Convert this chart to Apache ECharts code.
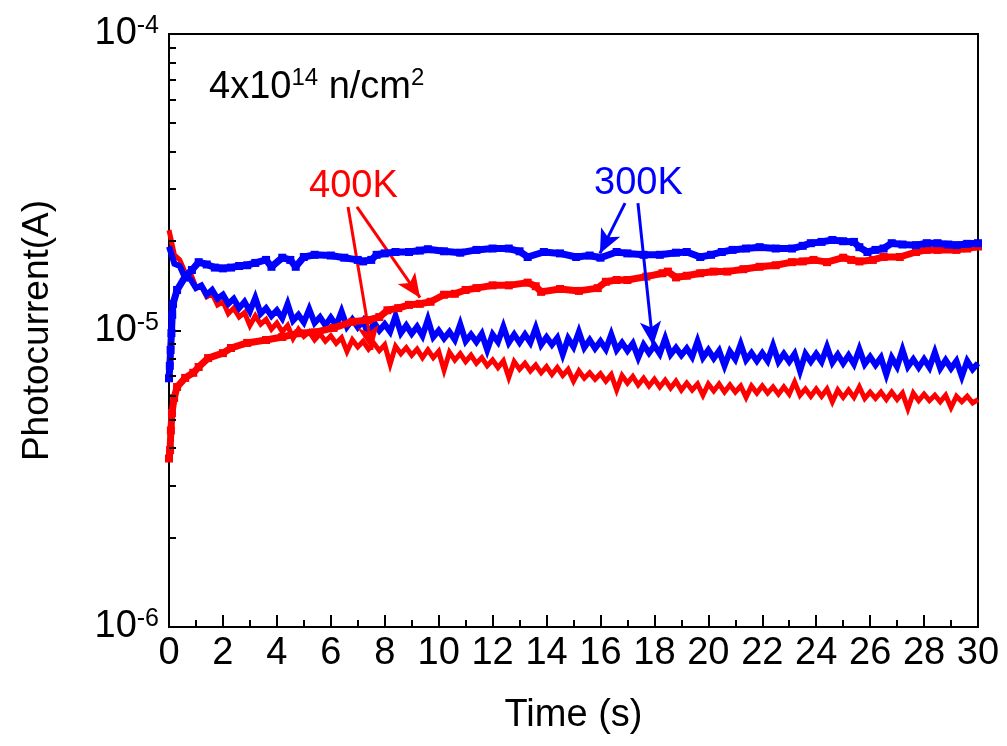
<!DOCTYPE html>
<html><head><meta charset="utf-8">
<script src="https://cdn.jsdelivr.net/npm/echarts@6/dist/echarts.min.js"></script>
<style>html,body{margin:0;padding:0;background:#fff}#c{width:1007px;height:746px}</style>
</head><body><div id="c"></div>
<script>
// All currents are in microampere (1 uA = 1e-6 A); axis labels show the power of ten in A.
const FONT = '"Liberation Sans", Arial, Helvetica, sans-serif';
const RED = '#ff0000', BLUE = '#0000ff';

// x tick labels every 2 s
const xMin = 0, xMax = 30, xStep = 2;
// y axis decades (uA) -> labels 10^-6 .. 10^-4 A
const yMin = 1, yMax = 100;
const yMinorTicks = [2,3,4,5,6,7,8,9,20,30,40,50,60,70,80,90];

// Noisy decay curves, sampled every 0.2 s from 0 to 30 s
const noisyStep = 0.2;
const red400Decay = [
 21.8,18.0,17.3,15.7,15.6,14.0,14.1,13.0,13.3,12.2,
 12.5,11.4,11.9,11.1,11.5,10.4,11.2,10.5,10.9,10.1,
 10.6,9.9,10.4,9.4,10.1,9.55,9.9,9.3,9.75,9.2,
 9.6,9.05,9.45,8.5,9.3,8.8,9.2,8.65,9.05,8.55,
 8.95,7.7,8.85,8.35,8.75,8.25,8.65,8.1,8.6,8.1,
 8.5,7.35,8.45,7.95,8.35,7.85,8.25,7.75,8.1,7.6,
 7.95,7.5,7.9,6.95,7.85,7.4,7.75,7.3,7.65,7.2,
 7.55,7.1,7.5,7.05,7.4,6.75,7.3,6.9,7.2,6.85,
 7.15,6.75,7.1,6.3,7.05,6.65,7.0,6.55,6.9,6.5,
 6.85,6.45,6.8,6.4,6.75,6.3,6.65,6.3,6.6,6.05,
 6.6,6.25,6.6,6.2,6.55,6.2,6.5,5.95,6.5,6.15,
 6.5,6.15,6.45,6.1,6.45,6.1,6.7,6.05,6.35,6.0,
 6.35,6.0,6.35,5.75,6.3,5.95,6.3,5.95,6.45,5.9,
 6.2,5.9,6.2,5.85,6.2,5.85,6.15,5.45,6.15,5.8,
 6.1,5.8,6.05,5.75,6.05,5.5,6.0,5.75,6.0,5.7,
 5.85];
const blue300Decay = [
 19.2,16.8,16.5,15.0,14.9,13.9,14.2,13.2,13.7,12.8,
 13.2,12.3,12.8,11.9,12.5,11.6,12.9,11.4,11.9,11.2,
 11.7,11.0,12.3,10.8,11.3,10.65,11.8,10.6,11.1,10.4,
 11.05,10.4,11.6,10.3,10.9,10.25,10.8,9.6,10.65,10.0,
 10.5,9.9,11.2,9.8,10.4,9.75,10.3,9.6,10.9,9.5,
 10.0,9.4,9.9,9.3,10.5,9.2,9.7,9.15,9.75,8.6,
 9.7,9.15,10.3,9.1,9.7,9.1,9.7,9.1,10.2,8.95,
 9.5,8.95,9.45,8.3,9.4,8.8,9.9,8.75,9.3,8.7,
 9.2,8.65,9.7,8.6,9.1,8.55,9.05,8.1,8.95,8.4,
 8.9,8.35,9.4,8.3,8.75,8.25,8.7,8.15,9.2,8.1,
 8.6,8.05,8.55,7.6,8.5,8.0,9.0,7.95,8.4,7.9,
 8.4,7.9,8.9,7.85,8.35,7.85,8.35,7.3,8.35,7.85,
 8.35,7.85,8.8,7.8,8.3,7.75,8.25,7.7,8.65,7.7,
 8.15,7.65,8.1,7.1,8.1,7.55,8.6,7.55,8.0,7.5,
 8.0,7.5,8.45,7.45,7.95,7.45,7.9,7.0,7.9,7.4,
 7.75];

// Square-marker curves
const blue300FlatTime = [0,0.03,0.06,0.09,0.12,0.15,0.3,0.6,0.85,1.1,1.4,1.7,2.0,2.3,2.6,2.9,3.2,3.6,3.8,4.2,4.5,4.7,5.0,5.4,6.0,6.5,7.0,7.2,7.5,7.7,8.0,8.4,8.9,9.3,9.6,10.2,10.8,11.4,12.0,12.6,13.0,13.3,13.9,14.5,15.1,15.6,16.0,16.6,17.0,17.6,18.2,18.8,19.2,19.7,20.1,20.5,20.9,21.4,21.9,22.5,23.1,23.5,23.8,24.2,24.6,25.0,25.4,25.6,25.9,26.2,26.5,26.8,27.2,27.7,28.1,28.5,28.9,29.2,29.6,30.0];
const blue300Flat = [6.9,7.6,8.6,9.8,11.3,12.3,13.7,15.2,16.0,17.0,16.7,16.3,16.2,16.3,16.5,16.6,16.9,17.3,16.4,17.6,17.3,16.4,17.7,18.0,17.9,17.6,17.3,17.1,17.3,18.0,18.2,18.4,18.4,18.6,18.8,18.5,18.3,18.7,18.9,18.9,18.5,17.7,18.4,18.2,17.7,17.9,17.6,18.4,18.2,18.0,18.0,18.3,18.4,17.7,18.0,18.4,18.7,18.9,19.1,18.9,18.9,19.3,19.7,19.9,20.2,20.0,19.9,19.1,18.4,18.7,18.9,19.7,19.5,19.4,19.7,19.7,19.5,19.4,19.6,19.7];
const red400RiseTime = [0,0.04,0.07,0.11,0.19,0.3,0.6,0.9,1.1,1.45,2.0,2.3,2.9,3.6,4.2,4.8,5.4,6.1,6.8,7.4,7.8,8.1,8.5,8.9,9.3,9.7,10.2,10.6,11.0,11.4,12.0,12.6,13.3,13.6,13.8,14.5,15.2,15.9,16.2,16.6,17.0,17.7,18.3,18.5,18.8,19.2,19.7,20.2,20.7,21.3,21.9,22.5,23.1,23.5,23.9,24.4,25.0,25.3,25.6,26.1,26.5,27.1,27.7,28.1,28.5,29.2,29.6,30.0];
const red400Rise = [3.7,3.95,4.6,5.27,5.92,6.45,6.92,7.2,7.53,8.07,8.39,8.73,9.08,9.29,9.51,9.79,9.86,10.2,10.7,10.85,11.1,11.7,11.9,12.2,12.3,12.5,13.2,13.3,13.7,13.9,14.2,14.2,14.5,14.1,13.5,13.8,13.6,13.9,14.6,14.8,14.8,15.2,15.6,15.8,15.1,15.3,15.6,15.8,15.8,16.1,16.4,16.6,17.0,17.1,17.3,17.0,17.6,17.3,17.1,17.3,17.7,17.7,18.4,18.7,18.7,18.7,18.9,19.2];

// Annotation arrows: [start(time, uA), end(time, uA)]
const redArrows = [[[6.64,26.1],[7.53,8.6]], [[6.97,26.1],[9.31,12.9]]];
const blueArrows = [[[16.91,26.9],[15.98,18.2]], [[17.39,26.9],[17.95,8.9]]];

const zip = (t, v) => v.map((y, i) => [t[i], y]);
const onGrid = v => v.map((y, i) => [+(i * noisyStep).toFixed(2), y]);

const chart = echarts.init(document.getElementById('c'), null, {renderer: 'canvas'});

function arrowLines(arr, color) {
  return {
    silent: true, symbol: ['none', 'arrow'], symbolSize: [16, 24], animation: false,
    label: {show: false}, emphasis: {disabled: true},
    lineStyle: {color: color, width: 3, type: 'solid'},
    itemStyle: {color: color},
    data: arr.map(a => [{coord: a[0]}, {coord: a[1]}])
  };
}

const option = {
  animation: false,
  backgroundColor: '#fff',
  grid: {left: 169, right: 29, top: 34, bottom: 119, show: true, borderColor: '#000', borderWidth: 2, backgroundColor: 'transparent'},
  xAxis: {
    type: 'value', min: xMin, max: xMax, interval: xStep,
    name: 'Time (s)', nameLocation: 'middle', nameGap: 70,
    nameTextStyle: {fontSize: 38, color: '#000', fontFamily: FONT},
    axisLine: {lineStyle: {color: '#000', width: 2}},
    axisTick: {inside: true, length: 12, lineStyle: {color: '#000', width: 2}},
    minorTick: {show: true, splitNumber: 2, length: 7, lineStyle: {color: '#000', width: 2}},
    splitLine: {show: false},
    axisLabel: {fontSize: 38, color: '#000', fontFamily: FONT, margin: 8, interval: 0, hideOverlap: false}
  },
  yAxis: {
    type: 'log', logBase: 10, min: yMin, max: yMax,
    name: 'Photocurrent(A)', nameLocation: 'middle', nameGap: 113,
    nameTextStyle: {fontSize: 37, color: '#000', fontFamily: FONT},
    axisLine: {lineStyle: {color: '#000', width: 2}},
    axisTick: {inside: true, length: 12, lineStyle: {color: '#000', width: 2}},
    splitLine: {show: false},
    axisLabel: {
      margin: 10, color: '#000', fontFamily: FONT,
      formatter: v => '{b|10}{s|' + (Math.round(Math.log10(v)) - 6) + '}',
      rich: {
        b: {fontSize: 38, lineHeight: 40, fontFamily: FONT, color: '#000'},
        s: {fontSize: 25, lineHeight: 24, fontFamily: FONT, color: '#000', verticalAlign: 'top'}
      }
    }
  },
  series: [
    {name: '400K decay', type: 'line', data: onGrid(red400Decay), symbol: 'none', sampling: 'none',
     lineStyle: {color: RED, width: 5, join: 'miter', miterLimit: 4}, itemStyle: {color: RED}, z: 2},
    {name: '300K decay', type: 'line', data: onGrid(blue300Decay), symbol: 'none', sampling: 'none',
     lineStyle: {color: BLUE, width: 6, join: 'miter', miterLimit: 4}, itemStyle: {color: BLUE}, z: 3},
    {name: '400K rise', type: 'line', data: zip(red400RiseTime, red400Rise), symbol: 'rect', symbolSize: 8,
     showAllSymbol: true, lineStyle: {color: RED, width: 7}, itemStyle: {color: RED}, z: 4,
     markLine: arrowLines(redArrows, RED)},
    {name: '300K flat', type: 'line', data: zip(blue300FlatTime, blue300Flat), symbol: 'rect', symbolSize: 8,
     showAllSymbol: true, lineStyle: {color: BLUE, width: 7}, itemStyle: {color: BLUE}, z: 5,
     markLine: arrowLines(blueArrows, BLUE)}
  ]
};
chart.setOption(option);

const x0 = chart.convertToPixel({xAxisIndex: 0}, xMin);
const minorTickEls = yMinorTicks.map(v => {
  const y = Math.round(chart.convertToPixel({yAxisIndex: 0}, v));
  return {type: 'line', silent: true, z: 100, shape: {x1: x0, y1: y, x2: x0 + 7, y2: y},
          style: {stroke: '#000', lineWidth: 2}};
});
const textEls = [
  {type: 'text', left: 209, top: 66, z: 100, style: {
    text: '{a|4x10}{s|14}{a| n/cm}{s|2}', fill: '#000',
    rich: {a: {fontSize: 38, lineHeight: 44, fontFamily: FONT, fill: '#000', color: '#000'},
           s: {fontSize: 24, lineHeight: 20, fontFamily: FONT, fill: '#000', color: '#000', verticalAlign: 'top'}}}},
  {type: 'text', left: 309, top: 168, z: 100, style: {text: '400K', fontSize: 38, fontFamily: FONT, fill: RED}},
  {type: 'text', left: 594, top: 165, z: 100, style: {text: '300K', fontSize: 38, fontFamily: FONT, fill: BLUE}}
];
chart.setOption({graphic: textEls.concat(minorTickEls)});
</script></body></html>
